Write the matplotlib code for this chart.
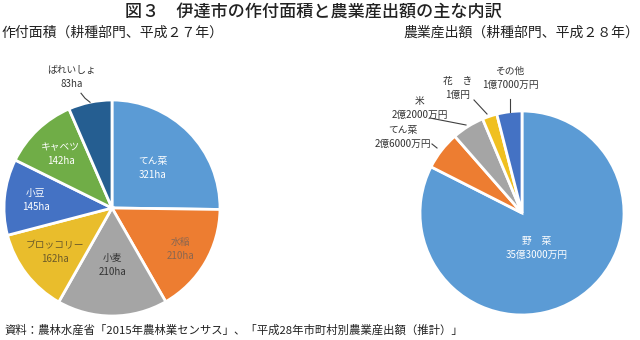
import numpy as np
import matplotlib
matplotlib.use("Agg")
import matplotlib.pyplot as plt

plt.rcParams['font.family'] = ['Noto Sans CJK JP', 'DejaVu Sans']

# 作付面積（ha）
area_labels = ['てん菜', '水稲', '小麦', 'ブロッコリー', '小豆', 'キャベツ', 'ばれいしょ']
area_values = [321, 210, 210, 162, 145, 142, 83]
area_text = ['321ha', '210ha', '210ha', '162ha', '145ha', '142ha', '83ha']
area_colors = ['#5b9bd5', '#ed7d31', '#a5a5a5', '#e9bd2c', '#4472c4', '#70ad47', '#255e91']
area_txtcol = ['white', '#8a6650', '#333333', '#6b5a2a', 'white', 'white', '#333333']
area_rad = [0.53, 0.74, 0.53, 0.67, 0.71, 0.69, None]

# 農業産出額（万円）
out_labels = ['野　菜', 'てん菜', '米', '花　き', 'その他']
out_values = [353000, 26000, 22000, 10000, 17000]
out_text = ['35億3000万円', '2億6000万円', '2億2000万円', '1億円', '1億7000万円']
out_colors = ['#5b9bd5', '#ed7d31', '#a5a5a5', '#f0c020', '#4472c4']

W, H = 640, 340
fig = plt.figure(figsize=(W / 100, H / 100), dpi=100)
ax = fig.add_axes([0, 0, 1, 1])


def py(y):
    # 上からのピクセル位置 -> データ座標
    return H - y


# 左の円グラフ
c1 = (112, py(208))
r1 = 108
w1, _ = ax.pie(area_values, colors=area_colors, startangle=90, counterclock=False,
               center=c1, radius=r1, frame=True,
               wedgeprops=dict(edgecolor='white', linewidth=2))
for i, w in enumerate(w1):
    if area_rad[i] is None:
        continue
    mid = np.deg2rad((w.theta1 + w.theta2) / 2)
    x = c1[0] + area_rad[i] * r1 * np.cos(mid)
    y = c1[1] + area_rad[i] * r1 * np.sin(mid)
    ax.text(x, y, area_labels[i] + '\n' + area_text[i], ha='center', va='center',
            fontsize=7, color=area_txtcol[i], linespacing=1.5)

# ばれいしょ（外側ラベル）
w = w1[-1]
mid = np.deg2rad((w.theta1 + w.theta2) / 2)
ex = c1[0] + r1 * np.cos(mid)
ey = c1[1] + r1 * np.sin(mid)
ax.plot([ex, ex - 5, ex - 9], [ey, ey + 4, ey + 9], color='#404040', lw=0.8)
ax.text(72, py(77), area_labels[-1] + '\n' + area_text[-1], ha='center', va='center',
        fontsize=7, color='#333333', linespacing=1.5)

# 右の円グラフ
c2 = (522, py(213))
r2 = 102
w2, _ = ax.pie(out_values, colors=out_colors, startangle=90, counterclock=False,
               center=c2, radius=r2, frame=True,
               wedgeprops=dict(edgecolor='white', linewidth=2))
ax.set_xlim(0, W)
ax.set_ylim(0, H)
ax.set_aspect('equal')
ax.axis('off')

ax.text(537, py(248), out_labels[0] + '\n' + out_text[0], ha='center', va='center',
        fontsize=7, color='white', linespacing=1.6)

# 外側ラベルと引出線
lab_pos = [None, (403, 137), (420, 108), (458, 88), (510, 78)]
lines = [None,
         [(432, 144), (437, 148)],
         [(430, 118), (466, 125)],
         [(474, 100), (487, 114)],
         [(510, 99), (510, 112)]]
for i in range(1, len(out_labels)):
    x, y = lab_pos[i]
    ax.text(x, py(y), out_labels[i] + '\n' + out_text[i], ha='center', va='center',
            fontsize=7, color='#333333', linespacing=1.5)
    (xa, ya), (xb, yb) = lines[i]
    ax.plot([xa, xb], [py(ya), py(yb)], color='#404040', lw=0.8)

# タイトル・見出し・出典
fig.text(0.49, 1 - 12 / H, '図３　伊達市の作付面積と農業産出額の主な内訳', ha='center', va='center',
         fontsize=12.3, fontweight='medium', color='#222222')
fig.text(1 / W, 1 - 33 / H, '作付面積（耕種部門、平成２７年）', ha='left', va='center',
         fontsize=10, color='#222222')
fig.text(1 - 1 / W, 1 - 33 / H, '農業産出額（耕種部門、平成２８年）', ha='right', va='center',
         fontsize=10, color='#222222')
fig.text(4 / W, 1 - 330 / H, '資料：農林水産省「2015年農林業センサス」、「平成28年市町村別農業産出額（推計）」',
         ha='left', va='center', fontsize=8.2, color='#222222')

fig.savefig('out.png', dpi=100, facecolor='white')
